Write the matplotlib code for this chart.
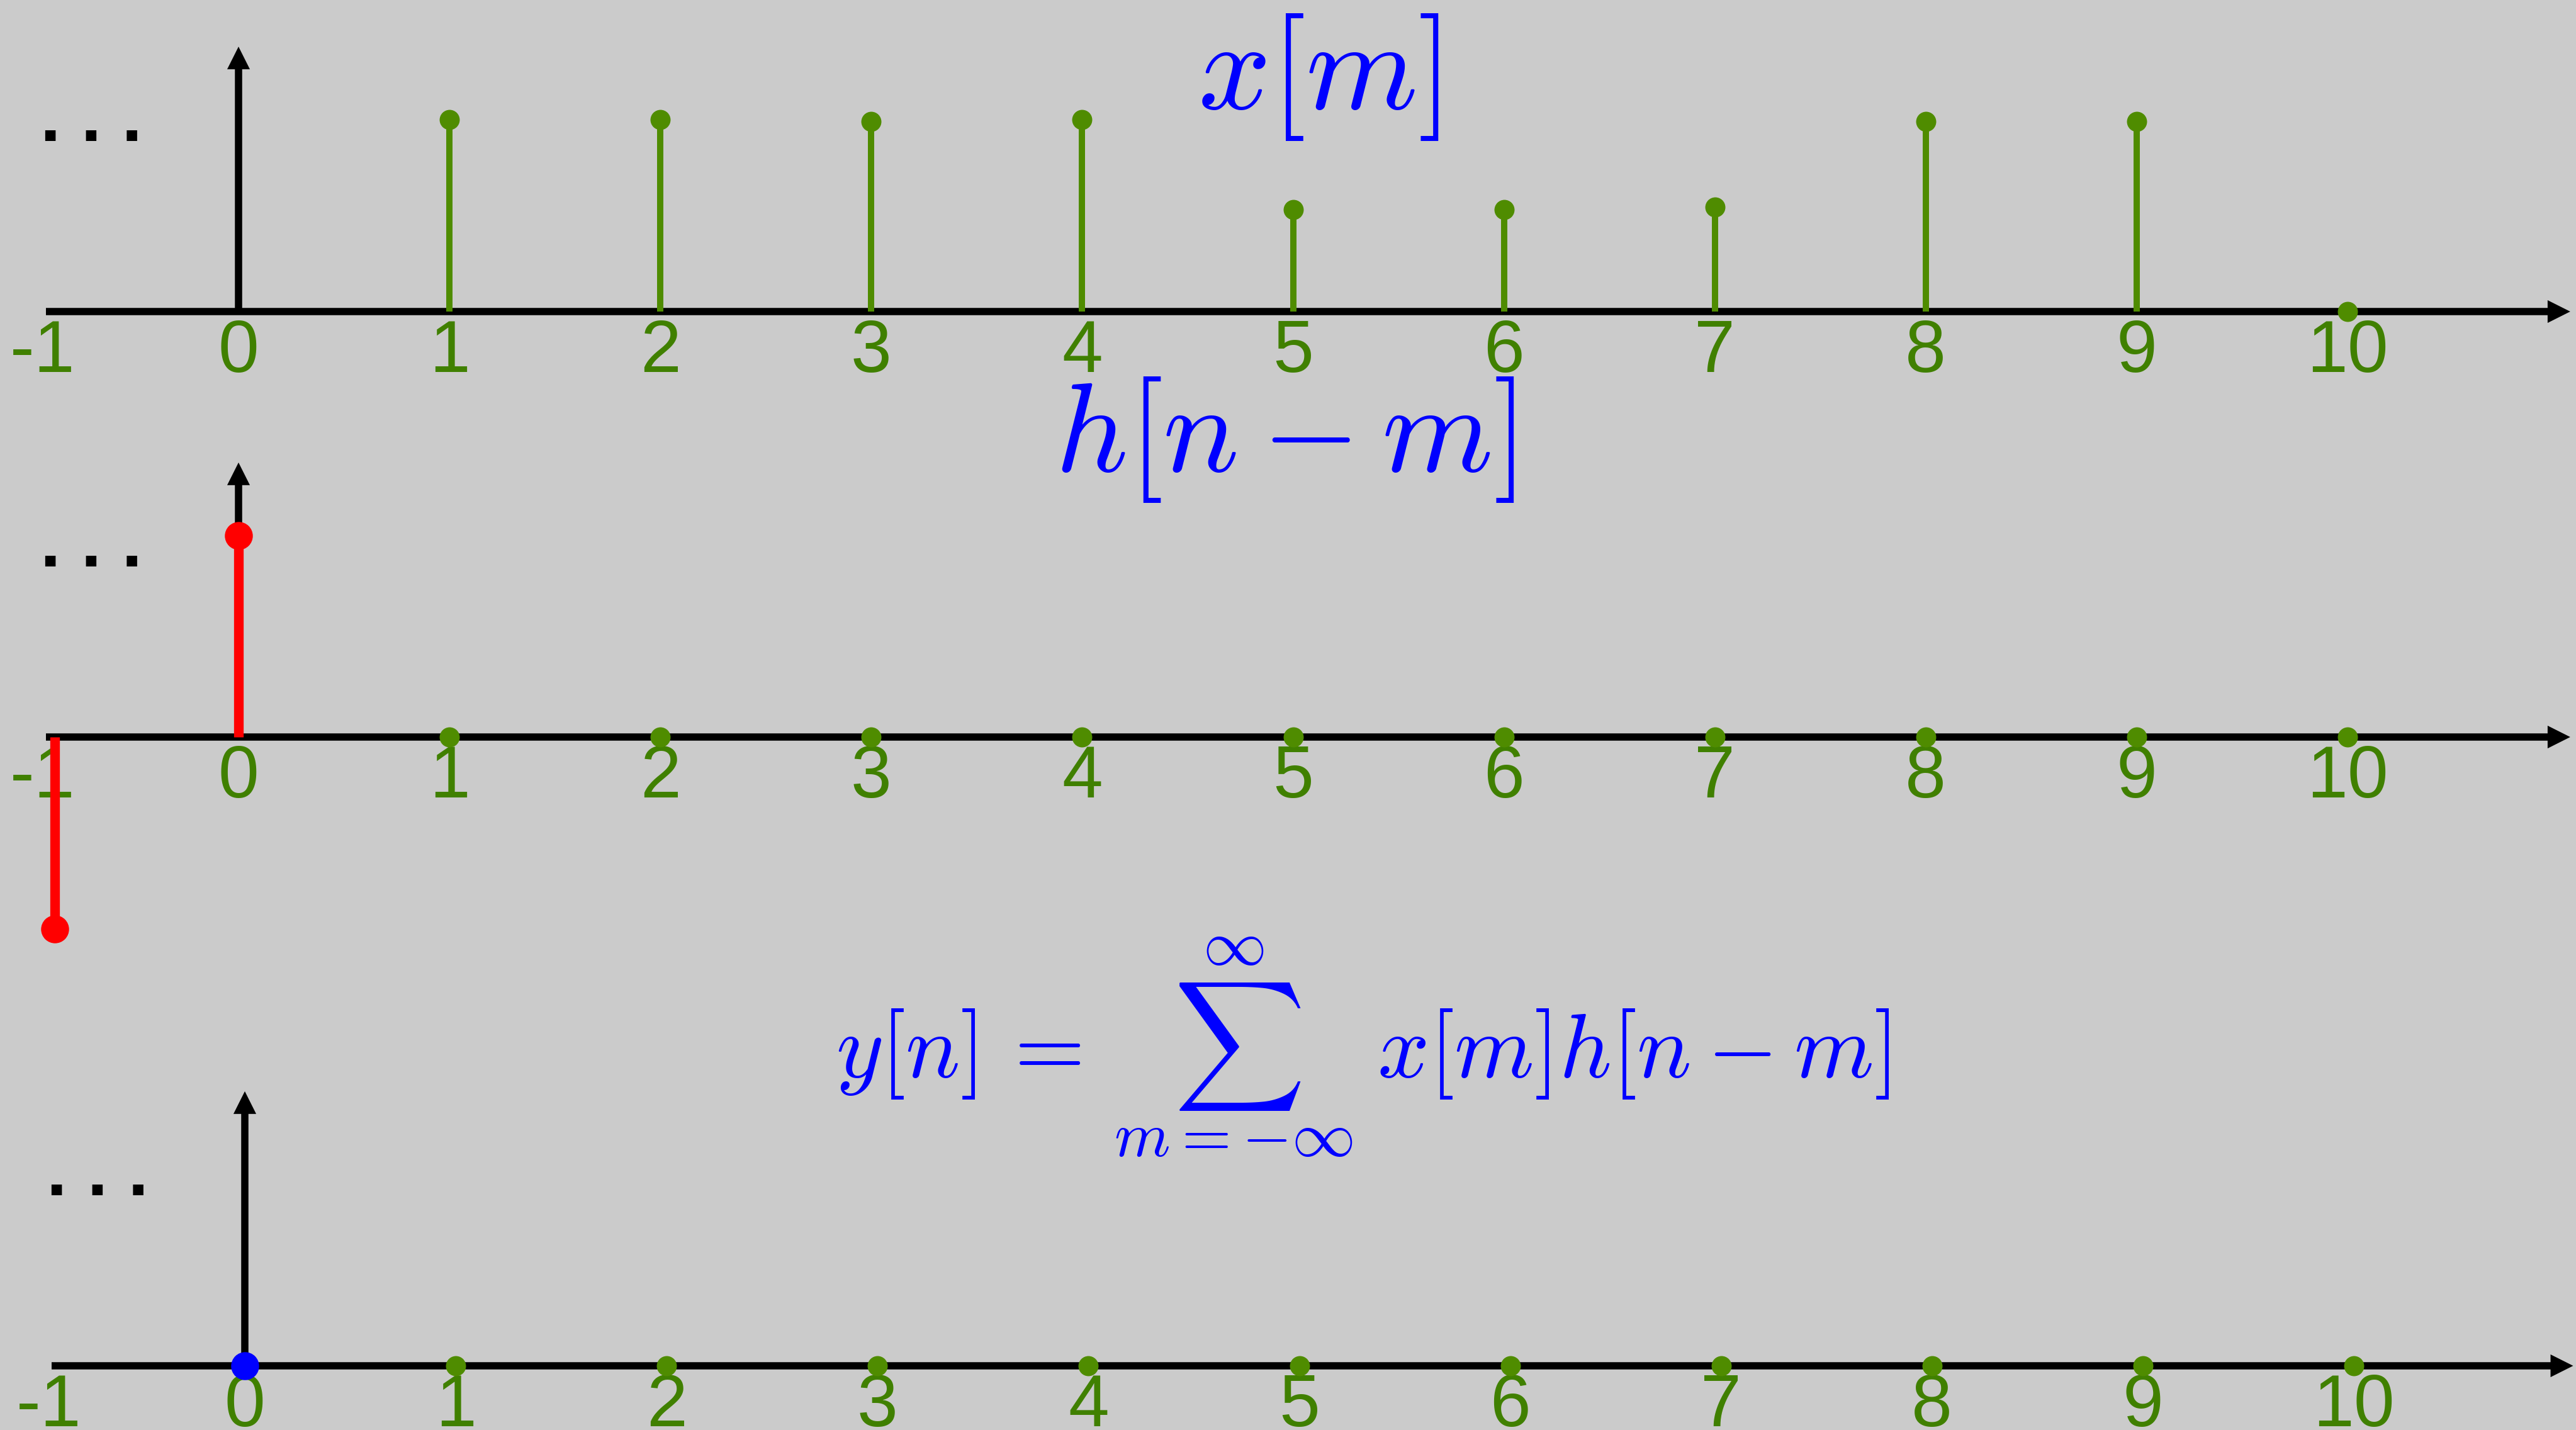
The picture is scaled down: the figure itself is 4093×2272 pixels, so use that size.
import numpy as np
import matplotlib
matplotlib.use("Agg")
import matplotlib.pyplot as plt

plt.rcParams['mathtext.fontset'] = 'cm'
plt.rcParams['font.family'] = ['Liberation Sans', 'DejaVu Sans']

# ---- signal values ----
n_ticks = list(range(-1, 11))
tick_labels = [str(n) for n in n_ticks]

x_idx = list(range(1, 11))
x_vals = [1.0, 1.0, 0.99, 1.0, 0.53, 0.53, 0.545, 0.99, 0.99, 0.0]

h_idx = [-1, 0]
h_vals = [-1.0, 1.05]

zero_idx = list(range(1, 11))
zero_vals = [0.0] * 10

y_idx = [0]
y_vals = [0.0]

# ---- look ----
BG = '#cbcbcb'
GREEN = '#4f8c00'
LABEL_GREEN = '#408000'
W, H = 4093, 2272
DPI = 100
UX, UY = 335.1, 305.0      # pixels per sample step / per unit amplitude
LEFT_SLOT = -0.87          # the n=-1 slot sits squeezed against the left edge
LEFT_LABEL = -0.93


def pos(n):
    return LEFT_SLOT if n == -1 else n


fig = plt.figure(figsize=(W / DPI, H / DPI), dpi=DPI, facecolor=BG)


def panel(x0, y0):
    ax = fig.add_axes([0, 0, 1, 1])
    ax.set_xlim(-x0 / UX, (W - x0) / UX)
    ax.set_ylim((y0 - H) / UY, y0 / UY)
    ax.axis('off')
    return ax


def arrow(ax, start, tip, base):
    ax.plot([start[0], base[0]], [start[1], base[1]], color='k', lw=8.3,
            solid_capstyle='butt', zorder=2)
    ax.annotate('', xy=tip, xytext=base,
                arrowprops=dict(arrowstyle='-|>,head_length=25.9,head_width=13',
                                mutation_scale=1, lw=0, color='k',
                                shrinkA=0, shrinkB=0), zorder=2)


def axes_frame(ax, x_start, x_tip, y_tip):
    # horizontal n axis and vertical amplitude axis with arrow heads
    arrow(ax, (x_start, 0), (x_tip, 0), (x_tip - 36 / UX, 0))
    arrow(ax, (0, 0), (0, y_tip), (0, y_tip - 35 / UY))
    ax.text(-0.94, 0.89, '. . .', fontsize=84, fontweight='bold',
            color='k', ha='left', va='baseline')
    for n, lab in zip(n_ticks, tick_labels):
        xp = LEFT_LABEL if n == -1 else n
        ax.text(xp, -0.035, lab, fontsize=84, color=LABEL_GREEN,
                ha='center', va='top', zorder=1)


def stems(ax, idx, vals, color, ms, lw, z=4):
    c = ax.stem([pos(n) for n in idx], vals, basefmt=' ')
    plt.setp(c.markerline, color=color, markersize=ms, markeredgewidth=0, zorder=z + 1)
    plt.setp(c.stemlines, color=color, linewidth=lw, zorder=z)
    return c


# top: x[m]
ax1 = panel(379, 495)
axes_frame(ax1, -0.913, 11.056, 1.38)
stems(ax1, x_idx, x_vals, GREEN, 23, 7.2)
ax1.text(5.12, 1.22, r'$x[m]$', fontsize=146, color='blue', ha='center', va='center')

# middle: h[n-m]
ax2 = panel(379, 1171)
axes_frame(ax2, -0.913, 11.056, 1.43)
stems(ax2, zero_idx, zero_vals, GREEN, 23, 7.2)
stems(ax2, h_idx, h_vals, 'red', 32, 11)
ax2.text(4.96, 1.55, r'$h[n-m]$', fontsize=145, color='blue', ha='center', va='center')

# bottom: y[n]
ax3 = panel(389, 2170)
axes_frame(ax3, -0.916, 11.04, 1.43)
stems(ax3, zero_idx, zero_vals, GREEN, 23, 7.2)
stems(ax3, y_idx, y_vals, 'blue', 32, 7.2)
ax3.text(5.30, 1.66,
         r'$y[n]\,=\,\sum_{m=-\infty}^{\infty}\;x[m]h[n-m]$',
         fontsize=104, color='blue', ha='center', va='center')

fig.savefig('out.png', dpi=DPI, facecolor=BG)
